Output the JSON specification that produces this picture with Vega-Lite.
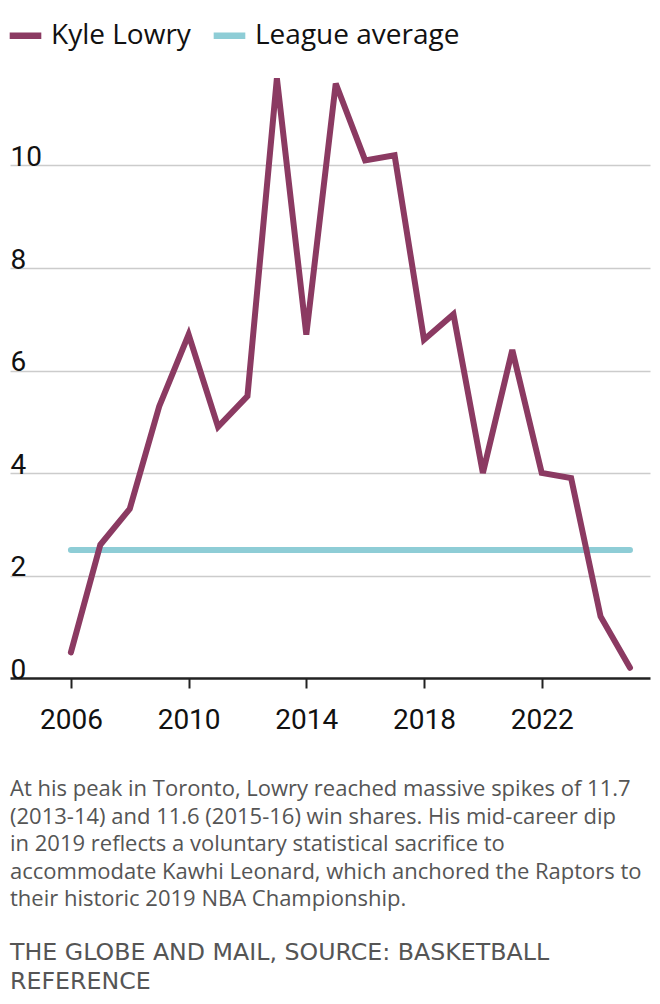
{
  "$schema": "https://vega.github.io/schema/vega-lite/v6.json",
  "autosize": "none",
  "width": 640,
  "height": 615,
  "padding": {"left": 10, "top": 63, "right": 10, "bottom": 326},
  "background": "#ffffff",
  "datasets": {
    "lowry": [
      {"year": 2006, "series": "Kyle Lowry", "win_shares": 0.5},
      {"year": 2007, "series": "Kyle Lowry", "win_shares": 2.6},
      {"year": 2008, "series": "Kyle Lowry", "win_shares": 3.3},
      {"year": 2009, "series": "Kyle Lowry", "win_shares": 5.3},
      {"year": 2010, "series": "Kyle Lowry", "win_shares": 6.7},
      {"year": 2011, "series": "Kyle Lowry", "win_shares": 4.9},
      {"year": 2012, "series": "Kyle Lowry", "win_shares": 5.5},
      {"year": 2013, "series": "Kyle Lowry", "win_shares": 11.7},
      {"year": 2014, "series": "Kyle Lowry", "win_shares": 6.7},
      {"year": 2015, "series": "Kyle Lowry", "win_shares": 11.6},
      {"year": 2016, "series": "Kyle Lowry", "win_shares": 10.1},
      {"year": 2017, "series": "Kyle Lowry", "win_shares": 10.2},
      {"year": 2018, "series": "Kyle Lowry", "win_shares": 6.6},
      {"year": 2019, "series": "Kyle Lowry", "win_shares": 7.1},
      {"year": 2020, "series": "Kyle Lowry", "win_shares": 4.0},
      {"year": 2021, "series": "Kyle Lowry", "win_shares": 6.4},
      {"year": 2022, "series": "Kyle Lowry", "win_shares": 4.0},
      {"year": 2023, "series": "Kyle Lowry", "win_shares": 3.9},
      {"year": 2024, "series": "Kyle Lowry", "win_shares": 1.2},
      {"year": 2025, "series": "Kyle Lowry", "win_shares": 0.2}
    ],
    "league": [
      {"year": 2006, "series": "League average", "win_shares": 2.5},
      {"year": 2025, "series": "League average", "win_shares": 2.5}
    ]
  },
  "title": {
    "text": [
      "At his peak in Toronto, Lowry reached massive spikes of 11.7",
      "(2013-14) and 11.6 (2015-16) win shares. His mid-career dip",
      "in 2019 reflects a voluntary statistical sacrifice to",
      "accommodate Kawhi Leonard, which anchored the Raptors to",
      "their historic 2019 NBA Championship."
    ],
    "subtitle": ["THE GLOBE AND MAIL, SOURCE: BASKETBALL", "REFERENCE"],
    "orient": "bottom",
    "anchor": "start",
    "frame": "group",
    "offset": 45,
    "font": "Open Sans",
    "fontSize": 22,
    "fontWeight": "normal",
    "color": "#555555",
    "lineHeight": 27.6,
    "subtitleFont": "DejaVu Sans",
    "subtitleFontSize": 23.7,
    "subtitleColor": "#555555",
    "subtitleLineHeight": 28.4,
    "subtitlePadding": 30
  },
  "config": {
    "view": {"stroke": null},
    "axis": {"labelFont": "Roboto", "labelColor": "#111111"}
  },
  "encoding": {
    "x": {
      "field": "year",
      "type": "quantitative",
      "scale": {"domain": [2003.93, 2025.68], "nice": false, "zero": false},
      "axis": {
        "title": null,
        "values": [2006, 2010, 2014, 2018, 2022],
        "format": "d",
        "grid": false,
        "domainColor": "#222222",
        "domainWidth": 2.5,
        "tickColor": "#222222",
        "tickWidth": 2,
        "tickSize": 10,
        "labelFontSize": 28,
        "labelPadding": 18
      }
    },
    "y": {
      "field": "win_shares",
      "type": "quantitative",
      "scale": {"domain": [0, 12], "nice": false},
      "axis": {
        "title": null,
        "values": [0, 2, 4, 6, 8, 10],
        "domain": false,
        "ticks": false,
        "tickSize": 0,
        "labelPadding": 0,
        "labelAlign": "left",
        "labelBaseline": "alphabetic",
        "labelDy": -10,
        "labelFontSize": 28,
        "gridColor": {"condition": {"test": "datum.value === 0", "value": "transparent"}, "value": "#cccccc"},
        "gridWidth": 1.5
      }
    },
    "color": {
      "field": "series",
      "type": "nominal",
      "scale": {"domain": ["Kyle Lowry", "League average"], "range": ["#8b3a62", "#8ecdd6"]},
      "legend": {
        "title": null,
        "orient": "none",
        "legendX": -4,
        "legendY": -47,
        "direction": "horizontal",
        "symbolType": "stroke",
        "symbolStrokeWidth": 6.5,
        "symbolSize": 1000,
        "labelFont": "Open Sans",
        "labelFontSize": 28,
        "labelColor": "#111111",
        "labelOffset": 6,
        "labelLimit": 0,
        "columnPadding": 9
      }
    }
  },
  "layer": [
    {
      "data": {"name": "league"},
      "mark": {"type": "line", "strokeWidth": 6, "strokeCap": "round"}
    },
    {
      "data": {"name": "lowry"},
      "mark": {"type": "line", "strokeWidth": 6, "strokeCap": "round"}
    }
  ]
}
